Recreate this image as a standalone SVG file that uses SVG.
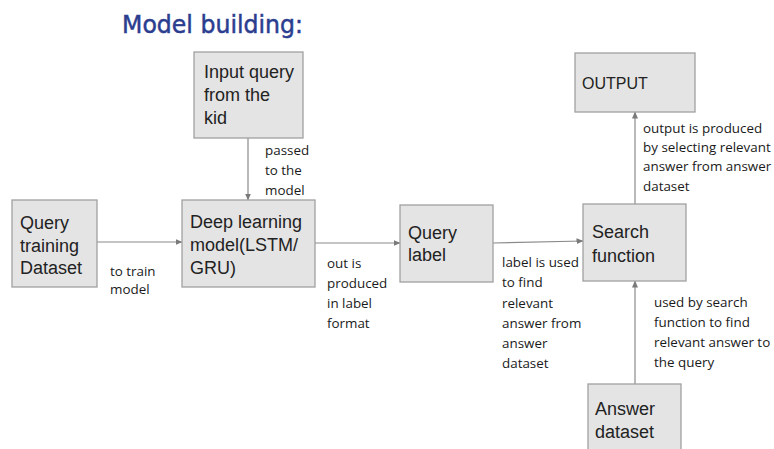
<svg xmlns="http://www.w3.org/2000/svg" width="774" height="449" viewBox="0 0 774 449">
<defs>
<marker id="ah" markerWidth="7" markerHeight="6" refX="6.5" refY="3" orient="auto" markerUnits="userSpaceOnUse">
<path d="M0,0 L7,3 L0,6 Z" fill="#7a7a7a"/>
</marker>
<style>
.box{fill:#e4e4e4;stroke:#a0a0a0;stroke-width:1.3}
.bt{font-family:"Liberation Sans",Arial,sans-serif;font-size:18px;fill:#222}
.lt{font-family:"Open Sans","Noto Sans",sans-serif;font-size:13.4px;fill:#1a1a1a}
.ln{stroke:#8a8a8a;stroke-width:1.2;fill:none;marker-end:url(#ah)}
.title{font-family:"DejaVu Sans",sans-serif;font-size:25px;fill:#2b3d8f;stroke:#2b3d8f;stroke-width:0.5}
</style>
</defs>
<rect width="774" height="449" fill="#ffffff"/>
<text class="title" x="122" y="33" textLength="181" lengthAdjust="spacingAndGlyphs">Model building:</text>

<g id="connectors">
<line class="ln" x1="248" y1="138" x2="248" y2="200"/>
<line class="ln" x1="97" y1="242" x2="182" y2="242"/>
<line class="ln" x1="315" y1="243" x2="400" y2="243"/>
<line class="ln" x1="493" y1="243" x2="583" y2="241"/>
<line class="ln" x1="635" y1="384" x2="635" y2="281"/>
<line class="ln" x1="635" y1="204" x2="635" y2="112"/>
<g class="lt">
<text x="265"><tspan x="265" y="155">passed</tspan><tspan x="265" y="175">to the</tspan><tspan x="265" y="195">model</tspan></text>
<text><tspan x="110" y="276">to train</tspan><tspan x="110" y="294">model</tspan></text>
<text><tspan x="327" y="268">out is</tspan><tspan x="327" y="288">produced</tspan><tspan x="327" y="308">in label</tspan><tspan x="327" y="328">format</tspan></text>
<text><tspan x="502" y="267">label is used</tspan><tspan x="502" y="287">to find</tspan><tspan x="502" y="308">relevant</tspan><tspan x="502" y="328">answer from</tspan><tspan x="502" y="348">answer</tspan><tspan x="502" y="368">dataset</tspan></text>
<text><tspan x="654" y="307">used by search</tspan><tspan x="654" y="327">function to find</tspan><tspan x="654" y="347">relevant answer to</tspan><tspan x="654" y="367">the query</tspan></text>
<text><tspan x="643" y="133">output is produced</tspan><tspan x="643" y="152">by selecting relevant</tspan><tspan x="643" y="171">answer from answer</tspan><tspan x="643" y="191">dataset</tspan></text>
</g>
</g>

<g id="input-query">
<rect class="box" x="194" y="52" width="109" height="86"/>
<text class="bt"><tspan x="204" y="78">Input query</tspan><tspan x="204" y="101">from the</tspan><tspan x="204" y="124">kid</tspan></text>
</g>
<g id="query-training-dataset">
<rect class="box" x="12" y="200" width="85" height="87"/>
<text class="bt"><tspan x="20" y="229">Query</tspan><tspan x="20" y="252">training</tspan><tspan x="20" y="274">Dataset</tspan></text>
</g>
<g id="deep-learning-model">
<rect class="box" x="182" y="200" width="133" height="87"/>
<text class="bt"><tspan x="190" y="228">Deep learning</tspan><tspan x="190" y="251">model(LSTM/</tspan><tspan x="190" y="274">GRU)</tspan></text>
</g>
<g id="query-label">
<rect class="box" x="400" y="205" width="93" height="77"/>
<text class="bt"><tspan x="408" y="239">Query</tspan><tspan x="408" y="261">label</tspan></text>
</g>
<g id="search-function">
<rect class="box" x="583" y="204" width="103" height="77"/>
<text class="bt"><tspan x="592" y="238">Search</tspan><tspan x="592" y="262">function</tspan></text>
</g>
<g id="output">
<rect class="box" x="575" y="53" width="120" height="59"/>
<text class="bt" x="582" y="89" style="font-size:16px">OUTPUT</text>
</g>
<g id="answer-dataset">
<rect class="box" x="588" y="384" width="93" height="70"/>
<text class="bt"><tspan x="595" y="415">Answer</tspan><tspan x="595" y="438">dataset</tspan></text>
</g>
</svg>
